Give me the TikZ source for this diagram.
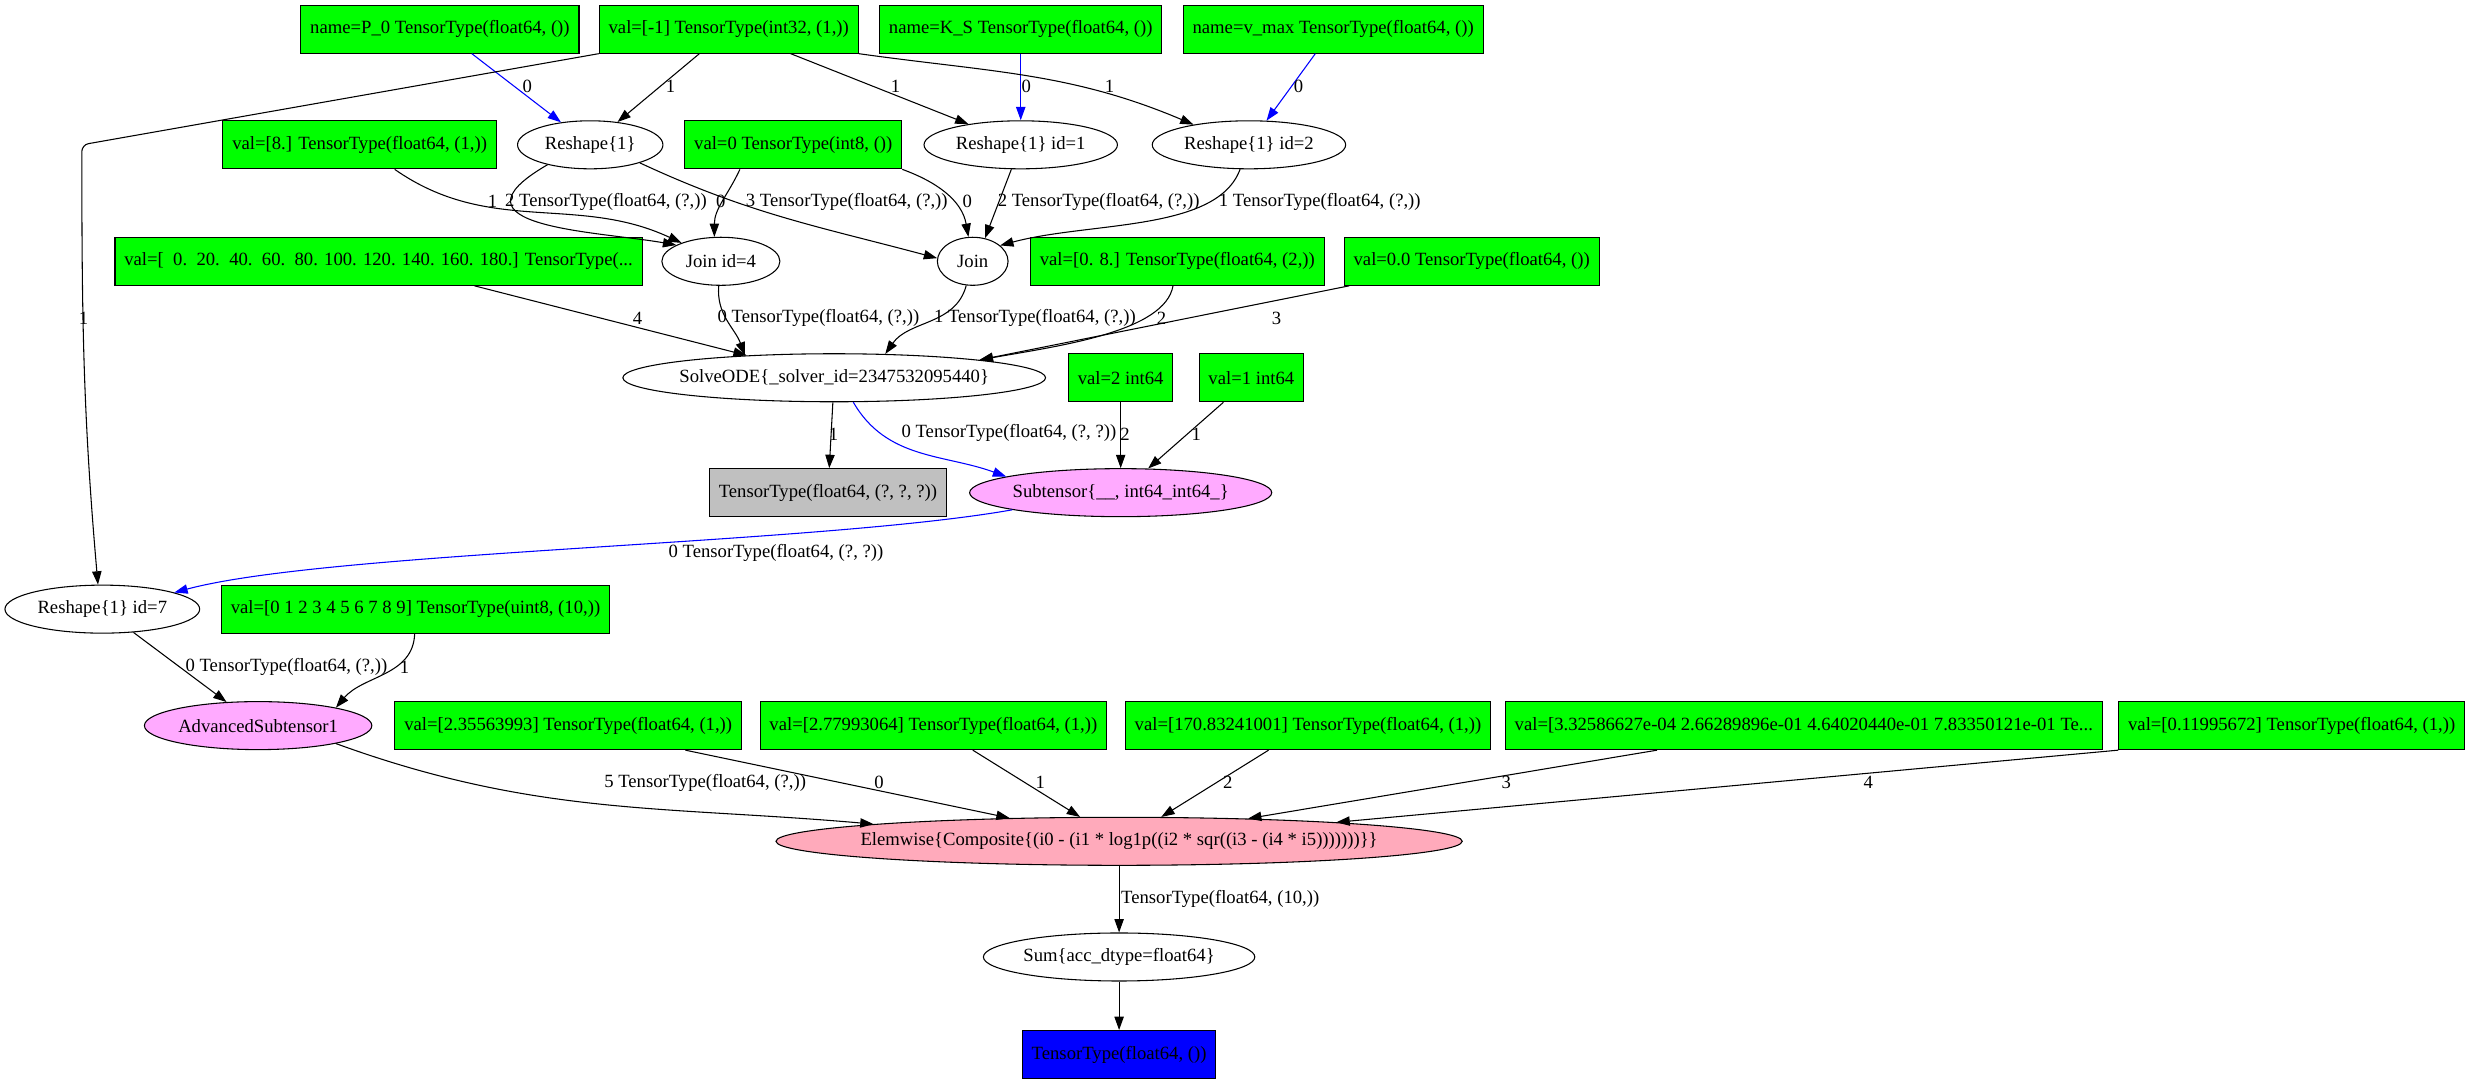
\documentclass[tikz,border=0pt]{standalone}
\usepackage{fontspec}
\setmainfont{Liberation Serif}
\usepackage{tikz}
\usetikzlibrary{shapes.geometric}
\usetikzlibrary{arrows.meta}

\definecolor{ingreen}{HTML}{00FF00}
\definecolor{subpink}{HTML}{FFAAFF}
\definecolor{elempink}{HTML}{FFAABB}
\definecolor{unusedgrey}{HTML}{C0C0C0}
\definecolor{outblue}{HTML}{0000FF}
\definecolor{edgeblue}{HTML}{0000FF}

\begin{document}
\begin{tikzpicture}[
  x=1.18pt,y=1.18pt,line width=0.8pt,
  every node/.style={font=\fontsize{14}{16}\selectfont},
  var/.style={rectangle,draw,fill=ingreen,minimum height=36pt,inner xsep=7pt,inner ysep=0pt},
  op/.style={ellipse,draw,minimum height=36pt,inner ysep=0pt,inner xsep=-4pt},
  dep/.style={draw,-{Triangle[length=10pt,width=7pt]}},
  lbl/.style={inner sep=0pt}]
\useasboundingbox (0,0) rectangle (1568,-689);

\node[var] (p0) at (279.5,-18.5) {name=P\_0 TensorType(float64, ())};
\node[var] (vm1) at (463,-18.5) {val=[-1] TensorType(int32, (1,))};
\node[var] (ks) at (648.5,-18.5) {name=K\_S TensorType(float64, ())};
\node[var] (vmax) at (847,-18.5) {name=v\_max TensorType(float64, ())};

\node[var] (v8) at (228.5,-92) {val=[8.] TensorType(float64, (1,))};
\node[op,minimum width=109pt] (rs0) at (375,-92) {Reshape\{1\}};
\node[var] (vi8) at (504,-92) {val=0 TensorType(int8, ())};
\node[op,minimum width=145pt] (rs1) at (648.5,-92) {Reshape\{1\} id=1};
\node[op,minimum width=145pt] (rs2) at (793.5,-92) {Reshape\{1\} id=2};

\node[var] (vgrid) at (240.5,-166) {val=[\ \ 0.\ \ 20.\ \ 40.\ \ 60.\ \ 80. 100. 120. 140. 160. 180.] TensorType(...};
\node[op,minimum width=88.5pt] (j4) at (458,-166) {Join id=4};
\node[op,minimum width=53pt] (join) at (618,-166) {Join};
\node[var] (v08) at (748,-166) {val=[0. 8.] TensorType(float64, (2,))};
\node[var] (v00) at (935,-166) {val=0.0 TensorType(float64, ())};

\node[op,minimum width=314pt] (ode) at (530,-240) {SolveODE\{\_solver\_id=2347532095440\}};
\node[var] (vtwo) at (712,-240) {val=2 int64};
\node[var] (vone) at (795,-240) {val=1 int64};

\node[var,fill=unusedgrey] (unused) at (526,-313) {TensorType(float64, (?, ?, ?))};
\node[op,fill=subpink,minimum width=226.5pt] (sub) at (712,-313) {Subtensor\{\_\_, int64\_int64\_\}};

\node[op,minimum width=146pt] (rs7) at (65,-387) {Reshape\{1\} id=7};
\node[var] (v09) at (264,-387) {val=[0 1 2 3 4 5 6 7 8 9] TensorType(uint8, (10,))};

\node[op,fill=subpink,minimum width=170.5pt] (adv) at (164,-461) {AdvancedSubtensor1};
\node[var] (c0) at (361,-461) {val=[2.35563993] TensorType(float64, (1,))};
\node[var] (c1) at (593,-461) {val=[2.77993064] TensorType(float64, (1,))};
\node[var] (c2) at (831,-461) {val=[170.83241001] TensorType(float64, (1,))};
\node[var] (c3) at (1146,-461) {val=[3.32586627e-04 2.66289896e-01 4.64020440e-01 7.83350121e-01 Te...};
\node[var] (c4) at (1456,-461) {val=[0.11995672] TensorType(float64, (1,))};

\node[op,fill=elempink,minimum width=514.5pt,inner xsep=-20pt] (elem) at (711,-534.5) {Elemwise\{Composite\{(i0 - (i1 * log1p((i2 * sqr((i3 - (i4 * i5)))))))\}\}};
\node[op,minimum width=203.5pt] (sum) at (711,-608) {Sum\{acc\_dtype=float64\}};
\node[var,fill=outblue] (out) at (711,-670) {TensorType(float64, ())};

\draw[dep,draw=edgeblue] (p0) -- (rs0) node[lbl] at (335,-55) {0};
\draw[dep] (vm1) -- (rs0) node[lbl] at (426,-55) {1};
\draw[dep] (vm1) -- (rs1) node[lbl] at (569,-55) {1};
\draw[dep,draw=edgeblue] (ks) -- (rs1) node[lbl] at (652,-55) {0};
\draw[dep] (vm1.south east) to[out=-8,in=157] (rs2.160) node[lbl] at (705,-55) {1};
\draw[dep,draw=edgeblue] (vmax) -- (rs2) node[lbl] at (825,-55) {0};
\coordinate (turn7) at (52,-92);
\draw[dep,rounded corners=5pt] (vm1.south west) -- (turn7) to[out=-90,in=95] (rs7.100) node[lbl] at (53,-202) {1};

\draw[dep] (v8) to[out=-35,in=155] (j4) node[lbl] at (313,-128) {1};
\draw[dep] (rs0.-155) to[out=-150,in=170,out distance=94pt,in distance=60pt] (j4.160) node[lbl] at (385,-128) {2 TensorType(float64, (?,))};
\draw[dep] ([xshift=-40pt]vi8.south) to[out=-115,in=90] (j4.105) node[lbl] at (458,-128) {0};
\draw[dep] (rs0.-20) to[out=-25,in=165] (join.175) node[lbl] at (538,-128) {3 TensorType(float64, (?,))};
\draw[dep] (vi8.south east) to[out=-20,in=100] (join.100) node[lbl] at (614.5,-128) {0};
\draw[dep] (rs1) -- (join.62) node[lbl] at (698,-128) {2 TensorType(float64, (?,))};
\draw[dep] (rs2.-110) to[out=-110,in=15,out distance=50pt,in distance=70pt] (join.30) node[lbl] at (838.5,-128) {1 TensorType(float64, (?,))};

\draw[dep] (vgrid) -- (ode) node[lbl] at (405,-202) {4};
\draw[dep] (j4) to[out=-95,in=110] (ode.166) node[lbl] at (520,-202) {0 TensorType(float64, (?,))};
\draw[dep] (join) to[out=-105,in=55] (ode.25) node[lbl] at (657.5,-202) {1 TensorType(float64, (?,))};
\draw[dep] (v08) to[out=-100,in=10,out distance=35pt] (ode.7) node[lbl] at (738,-202) {2};
\draw[dep] (v00) -- (ode.7) node[lbl] at (811,-202) {3};

\draw[dep] (ode) -- (unused) node[lbl] at (529.5,-276) {1};
\draw[dep,draw=edgeblue] (ode.-52) to[out=-60,in=160] (sub.172) node[lbl] at (641,-275) {0 TensorType(float64, (?, ?))};
\draw[dep] (vtwo) -- (sub) node[lbl] at (714.7,-276) {2};
\draw[dep] (vone) -- (sub) node[lbl] at (760,-276) {1};

\draw[dep,draw=edgeblue] (sub.-171) to[out=-170,in=15,out distance=150pt,in distance=120pt] (rs7.13) node[lbl] at (493,-351) {0 TensorType(float64, (?, ?))};

\draw[dep] (rs7) -- (adv) node[lbl] at (182,-424) {0 TensorType(float64, (?,))};
\draw[dep] (v09) to[out=-92,in=50] (adv.13) node[lbl] at (257,-424) {1};

\draw[dep] (adv.-13) to[out=-20,in=175] (elem.176) node[lbl] at (448,-497.5) {5 TensorType(float64, (?,))};
\draw[dep] (c0) -- (elem.168) node[lbl] at (558.5,-497) {0};
\draw[dep] (c1) -- (elem.148) node[lbl] at (661,-497) {1};
\draw[dep] (c2) -- (elem.30) node[lbl] at (780,-497) {2};
\draw[dep] (c3) -- (elem.10) node[lbl] at (957,-497) {3};
\draw[dep] (c4.south west) -- (elem.5) node[lbl] at (1187,-497) {4};
\draw[dep] (elem) -- (sum) node[lbl,anchor=west] at (712,-571) {TensorType(float64, (10,))};
\draw[dep] (sum) -- (out);
\end{tikzpicture}
\end{document}
